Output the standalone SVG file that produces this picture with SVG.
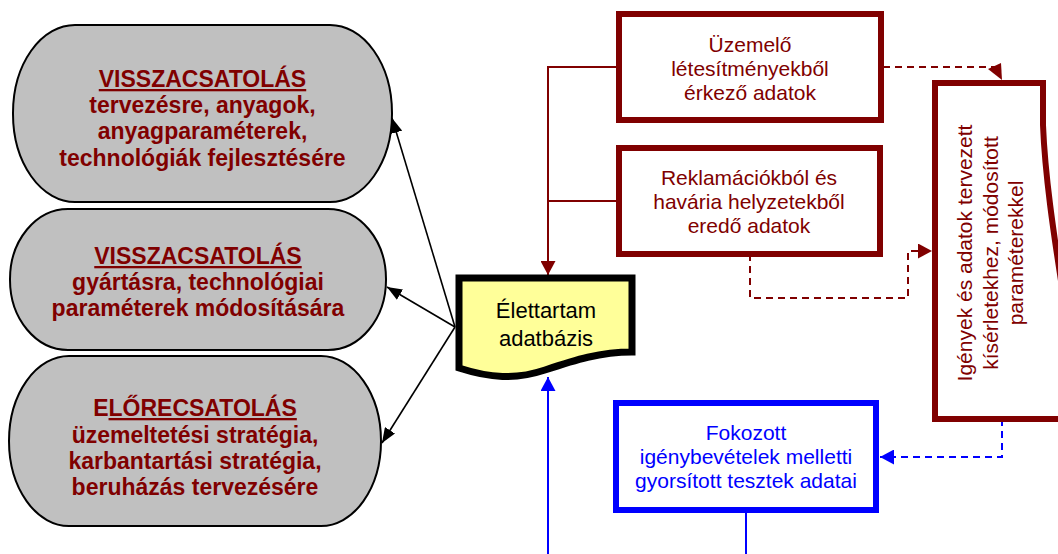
<svg xmlns="http://www.w3.org/2000/svg" width="1058" height="554" viewBox="0 0 1058 554">
<style>
.pill{fill:#C0C0C0;stroke:#000;stroke-width:2}
.pt{font-family:"Liberation Sans",Arial,sans-serif;font-weight:bold;font-size:23px;fill:#800000;text-anchor:middle}
.mt{font-family:"Liberation Sans",Arial,sans-serif;font-size:21px;fill:#800000;text-anchor:middle}
.bt{font-family:"Liberation Sans",Arial,sans-serif;font-size:21px;fill:#0000FF;text-anchor:middle}
.dt{font-family:"Liberation Sans",Arial,sans-serif;font-size:22px;fill:#000;text-anchor:middle}
.mbox{fill:#fff;stroke:#800000;stroke-width:6}
.bbox{fill:#fff;stroke:#0000FF;stroke-width:6}
.blk{fill:none;stroke:#000;stroke-width:1.6}
.mln{fill:none;stroke:#800000;stroke-width:2}
.mdash{fill:none;stroke:#800000;stroke-width:2;stroke-dasharray:7 5}
.bln{fill:none;stroke:#0000FF;stroke-width:2}
.bdash{fill:none;stroke:#0000FF;stroke-width:2;stroke-dasharray:7 5}
</style>
<defs>
<marker id="ak" markerUnits="userSpaceOnUse" markerWidth="16" markerHeight="12" refX="15" refY="6" orient="auto"><path d="M0,0 L15,6 L0,12 z" fill="#000"/></marker>
<marker id="am" markerUnits="userSpaceOnUse" markerWidth="15" markerHeight="15" refX="14" refY="7.5" orient="auto"><path d="M0,0 L14,7.5 L0,15 z" fill="#800000"/></marker>
<marker id="ab" markerUnits="userSpaceOnUse" markerWidth="15" markerHeight="15" refX="14" refY="7.5" orient="auto"><path d="M0,0 L14,7.5 L0,15 z" fill="#0000FF"/></marker>
</defs>

<g id="connectors">
<path class="blk" d="M455,327 L392,118" marker-end="url(#ak)"/>
<path class="blk" d="M455,327 L387,287" marker-end="url(#ak)"/>
<path class="blk" d="M455,327 L382,443" marker-end="url(#ak)"/>
<path class="mln" d="M619,67 H548 V275" marker-end="url(#am)"/>
<path class="mln" d="M619,201 H548"/>
<path class="mdash" d="M883,67 H995"/>
<polygon points="988,69 1001,63 1002,80" fill="#800000"/>
<path class="mdash" d="M750,254 V298 H908 V251 H932" marker-end="url(#am)"/>
<path class="bdash" d="M1002,419 V457 H880" marker-end="url(#ab)"/>
<path class="bln" d="M746,510 V554"/>
<path class="bln" d="M548,554 V377" marker-end="url(#ab)"/>
</g>

<g id="pill1">
<rect class="pill" x="13" y="25" width="379" height="177" rx="62" ry="88"/>
<text class="pt" x="202.5" y="87" text-decoration="underline">VISSZACSATOLÁS</text>
<text class="pt" x="202.5" y="113">tervezésre, anyagok,</text>
<text class="pt" x="202.5" y="139">anyagparaméterek,</text>
<text class="pt" x="202.5" y="166">technológiák fejlesztésére</text>
</g>

<g id="pill2">
<rect class="pill" x="10" y="209" width="376" height="141" rx="58" ry="70"/>
<text class="pt" x="198" y="264" text-decoration="underline">VISSZACSATOLÁS</text>
<text class="pt" x="198" y="290">gyártásra, technológiai</text>
<text class="pt" x="198" y="316">paraméterek módosítására</text>
</g>

<g id="pill3">
<rect class="pill" x="9" y="356" width="372" height="170" rx="60" ry="85"/>
<text class="pt" x="195" y="416">E<tspan text-decoration="underline">LŐRECSATOLÁS</tspan></text>
<text class="pt" x="195" y="443">üzemeltetési stratégia,</text>
<text class="pt" x="195" y="469">karbantartási stratégia,</text>
<text class="pt" x="195" y="495">beruházás tervezésére</text>
</g>

<g id="uzemelo">
<rect class="mbox" x="619" y="14" width="262" height="106"/>
<text class="mt" x="750" y="52">Üzemelő</text>
<text class="mt" x="750" y="76">létesítményekből</text>
<text class="mt" x="750" y="100">érkező adatok</text>
</g>

<g id="reklamacio">
<rect class="mbox" x="619" y="148" width="261" height="106"/>
<text class="mt" x="749" y="185">Reklamációkból és</text>
<text class="mt" x="749" y="209">havária helyzetekből</text>
<text class="mt" x="749" y="233">eredő adatok</text>
</g>

<g id="elettartam">
<path d="M459,278 H632 V352 C600,352 575,360 545,370 C515,380 490,378 459,368 Z" fill="#FFFF99" stroke="#000" stroke-width="7" stroke-linejoin="miter"/>
<text class="dt" x="546" y="318">Élettartam</text>
<text class="dt" x="546" y="346">adatbázis</text>
</g>

<g id="igenyek">
<path d="M935,83 H1043 V125 C1045,175 1053,230 1064,300 V419 H935 Z" fill="#fff" stroke="#800000" stroke-width="6"/>
<text class="mt" transform="translate(972,253) rotate(-90)">Igények és adatok tervezett</text>
<text class="mt" transform="translate(998,253) rotate(-90)">kísérletekhez, módosított</text>
<text class="mt" transform="translate(1023,253) rotate(-90)">paraméterekkel</text>
</g>

<g id="fokozott">
<rect class="bbox" x="616" y="403" width="260" height="107"/>
<text class="bt" x="746" y="440">Fokozott</text>
<text class="bt" x="746" y="464">igénybevételek melletti</text>
<text class="bt" x="746" y="488">gyorsított tesztek adatai</text>
</g>
</svg>
